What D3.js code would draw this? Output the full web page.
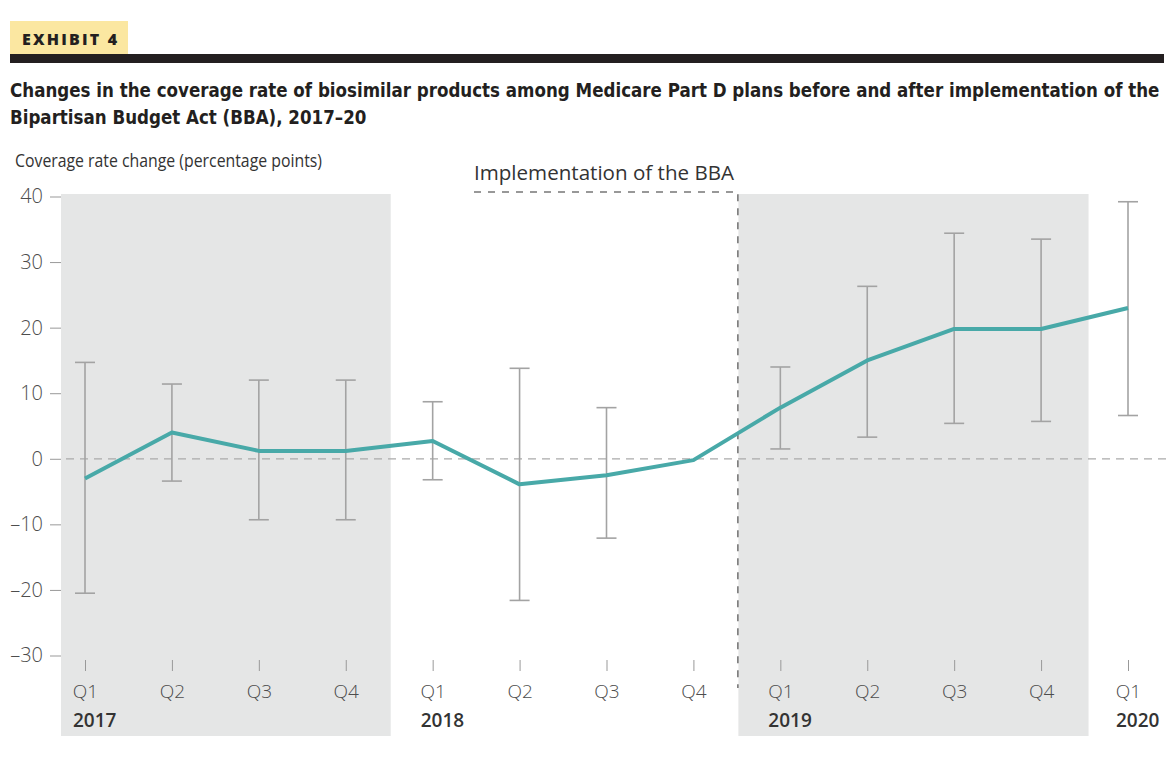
<!DOCTYPE html>
<html>
<head>
<title>Exhibit 4</title>
<script src="https://cdnjs.cloudflare.com/ajax/libs/d3/7.8.5/d3.min.js"></script>
<style>
body { margin: 0; background: #fff; }
text { font-family: "Open Sans", "Noto Sans", sans-serif; }
.title { font-family: "Liberation Sans Narrow", "DejaVu Sans Condensed", "Open Sans", sans-serif; }
</style>
</head>
<body>
<div id="chart"></div>
<script>
// quarters and years along the x axis
var quarters = ["Q1","Q2","Q3","Q4","Q1","Q2","Q3","Q4","Q1","Q2","Q3","Q4","Q1"];
var years = ["2017","","","","2018","","","","2019","","","","2020"];
// coverage rate change (percentage points), with confidence interval
var change = [-3.0, 4.0, 1.2, 1.2, 2.7, -3.9, -2.5, -0.2, 7.8, 15.0, 19.8, 19.8, 23.0];
var upper  = [14.7, 11.4, 12.0, 12.0, 8.7, 13.8, 7.8, null, 14.0, 26.3, 34.4, 33.5, 39.2];
var lower  = [-20.5, -3.4, -9.3, -9.3, -3.2, -21.6, -12.1, null, 1.5, 3.3, 5.4, 5.7, 6.6];
var yTicks = [40, 30, 20, 10, 0, -10, -20, -30];
// shaded years (index of first and last quarter)
var shaded = [[0, 3], [8, 11]];
var bbaAfter = 7;

var W = 1176, H = 779;
var svg = d3.select("#chart").append("svg").attr("width", W).attr("height", H);

// header
svg.append("rect").attr("x", 10).attr("y", 21).attr("width", 118).attr("height", 34).attr("fill", "#fbe7a1");
svg.append("rect").attr("x", 10).attr("y", 54).attr("width", 1154).attr("height", 9).attr("fill", "#231f20");
svg.append("text").attr("x", 22).attr("y", 45).text("EXHIBIT 4")
	.attr("font-size", 16).attr("font-weight", 800).attr("fill", "#231f20")
	.attr("textLength", 95).attr("lengthAdjust", "spacing");

// title, fitted to the width of the rule like the condensed original
function fitText(sel, width) {
	var w = sel.node().getComputedTextLength();
	if (w > width) sel.attr("font-size", +sel.attr("font-size") * width / w);
	else sel.attr("textLength", width).attr("lengthAdjust", "spacing");
}
var t1 = svg.append("text").attr("class", "title").attr("x", 10).attr("y", 97)
	.text("Changes in the coverage rate of biosimilar products among Medicare Part D plans before and after implementation of the")
	.attr("font-size", 21).attr("font-weight", 700).attr("fill", "#231f20");
fitText(t1, 1150);
var t2 = svg.append("text").attr("class", "title").attr("x", 10).attr("y", 124)
	.text("Bipartisan Budget Act (BBA), 2017\u201320")
	.attr("font-size", t1.attr("font-size")).attr("font-weight", 700).attr("fill", "#231f20");

svg.append("text").attr("x", 15).attr("y", 167)
	.text("Coverage rate change (percentage points)")
	.attr("font-size", 18).attr("fill", "#333")
	.attr("textLength", 307).attr("lengthAdjust", "spacingAndGlyphs");

var x = d3.scalePoint().domain(d3.range(quarters.length)).range([85, 1128]);
var y = d3.scaleLinear().domain([-30, 40]).range([655.5, 196.5]);
var step = x.step();

// shaded bands
var bandTop = 194, bandBottom = 736;
function bandLeft(d, i) { return i == 0 ? 61 : x(d[0]) - step / 2 + 1.5; }
function bandRight(d, i) { return x(d[1]) + step / 2 + (i == 0 ? 1.5 : 4); }
svg.selectAll("rect.band").data(shaded).enter().append("rect")
	.attr("class", "band")
	.attr("x", bandLeft)
	.attr("width", function(d, i) { return bandRight(d, i) - bandLeft(d, i); })
	.attr("y", bandTop).attr("height", bandBottom - bandTop)
	.attr("fill", "#e5e6e6");

// y axis
var yAxis = d3.axisLeft(y).tickValues(yTicks).tickSize(11).tickPadding(7)
	.tickFormat(function(d) { return d < 0 ? "\u2013" + Math.abs(d) : d; });
var gy = svg.append("g").attr("transform", "translate(61,0)").call(yAxis);
gy.select(".domain").remove();
gy.selectAll(".tick line").attr("stroke", "#999").attr("stroke-width", 1);
gy.selectAll(".tick text").attr("font-size", 20).attr("fill", "#4d4d4d")
	.attr("font-family", "'Open Sans', sans-serif").attr("font-weight", 300);

// zero line
svg.append("line").attr("x1", 66).attr("x2", 1166).attr("y1", y(0)).attr("y2", y(0))
	.attr("stroke", "#aaa").attr("stroke-width", 1.3).attr("stroke-dasharray", "8,6");

// BBA marker
var bbaX = (x(bbaAfter) + x(bbaAfter + 1)) / 2 + 1;
svg.append("path")
	.attr("d", "M474," + 192 + "H" + bbaX + "V" + 688)
	.attr("fill", "none").attr("stroke", "#777").attr("stroke-width", 1.6).attr("stroke-dasharray", "7,7");
svg.append("text").attr("x", 474).attr("y", 180).text("Implementation of the BBA")
	.attr("font-size", 20).attr("fill", "#333")
	.attr("textLength", 260).attr("lengthAdjust", "spacingAndGlyphs");

// x axis
var xAxis = d3.axisBottom(x).tickSize(11).tickPadding(14).tickFormat(function(d) { return quarters[d]; });
var gx = svg.append("g").attr("transform", "translate(0,660)").call(xAxis);
gx.select(".domain").remove();
gx.selectAll(".tick line").attr("stroke", "#999").attr("stroke-width", 1);
gx.selectAll(".tick text").attr("font-size", 19).attr("fill", "#4d4d4d").attr("font-weight", 300);

svg.selectAll("text.year").data(years.map(function(d, i) { return {y: d, i: i}; }).filter(function(d) { return d.y; }))
	.enter().append("text").attr("class", "year")
	.attr("x", function(d) { return x(d.i) - 12; }).attr("y", 727)
	.text(function(d) { return d.y; })
	.attr("font-size", 19).attr("font-weight", 600).attr("fill", "#333");

// error bars
var bars = d3.range(change.length).filter(function(i) { return upper[i] != null; });
var eb = svg.selectAll("g.eb").data(bars).enter().append("g").attr("class", "eb")
	.attr("stroke", "#a3a3a3").attr("stroke-width", 1.6);
eb.append("line").attr("x1", function(i) { return x(i); }).attr("x2", function(i) { return x(i); })
	.attr("y1", function(i) { return y(upper[i]); }).attr("y2", function(i) { return y(lower[i]); });
eb.append("line").attr("x1", function(i) { return x(i) - 10; }).attr("x2", function(i) { return x(i) + 10; })
	.attr("y1", function(i) { return y(upper[i]); }).attr("y2", function(i) { return y(upper[i]); });
eb.append("line").attr("x1", function(i) { return x(i) - 10; }).attr("x2", function(i) { return x(i) + 10; })
	.attr("y1", function(i) { return y(lower[i]); }).attr("y2", function(i) { return y(lower[i]); });

// line
var line = d3.line().x(function(d, i) { return x(i); }).y(function(d) { return y(d); });
svg.append("path").datum(change).attr("d", line)
	.attr("fill", "none").attr("stroke", "#48a9a8").attr("stroke-width", 4).attr("stroke-linejoin", "round");
</script>
</body>
</html>
